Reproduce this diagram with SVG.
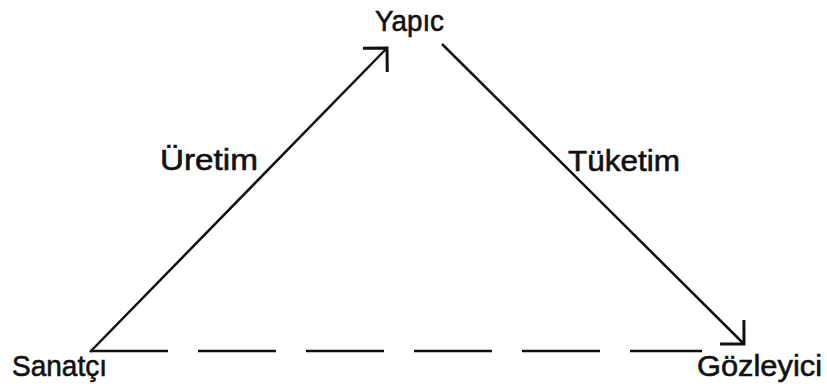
<svg xmlns="http://www.w3.org/2000/svg" width="827" height="391" viewBox="0 0 827 391">
  <style>
    .label { font-family: "Liberation Sans", Arial, sans-serif; font-size: 30px; fill: #111; stroke: #111; stroke-width: 0.6; }
    .edge { stroke: #111; stroke-width: 2.5; fill: none; stroke-linecap: butt; }
    .dashed { stroke-dasharray: 78 30; }
  </style>
  <defs>
    <!-- open right-angle arrowhead -->
    <marker id="arrow" markerUnits="userSpaceOnUse" viewBox="-20 -20 22 40" refX="0" refY="0" markerWidth="22" markerHeight="40" orient="auto" overflow="visible">
      <path d="M-17,-17 L0,0 L-17,17" fill="none" stroke="#111" stroke-width="3"/>
    </marker>
  </defs>
  <rect width="827" height="391" fill="#fff"/>

  <g id="connectors">
    <line id="uretim-edge" class="edge" x1="90" y1="352" x2="387" y2="48" marker-end="url(#arrow)"/>
    <line id="tuketim-edge" class="edge" x1="442" y1="44" x2="744" y2="344" marker-end="url(#arrow)"/>
    <line id="base-edge" class="edge dashed" x1="90" y1="351" x2="702" y2="351"/>
  </g>

  <g id="node-yapit">
    <text class="label" x="375" y="31" textLength="69" lengthAdjust="spacingAndGlyphs">Yapıc</text>
  </g>
  <g id="node-sanatci">
    <text class="label" x="12" y="376" textLength="95" lengthAdjust="spacingAndGlyphs">Sanatçı</text>
  </g>
  <g id="node-gozleyici">
    <text class="label" x="697" y="376" textLength="125" lengthAdjust="spacingAndGlyphs">Gözleyici</text>
  </g>
  <g id="label-uretim">
    <text class="label" x="160" y="170" textLength="98" lengthAdjust="spacingAndGlyphs">Üretim</text>
  </g>
  <g id="label-tuketim">
    <text class="label" x="568" y="171" textLength="112" lengthAdjust="spacingAndGlyphs">Tüketim</text>
  </g>
</svg>
